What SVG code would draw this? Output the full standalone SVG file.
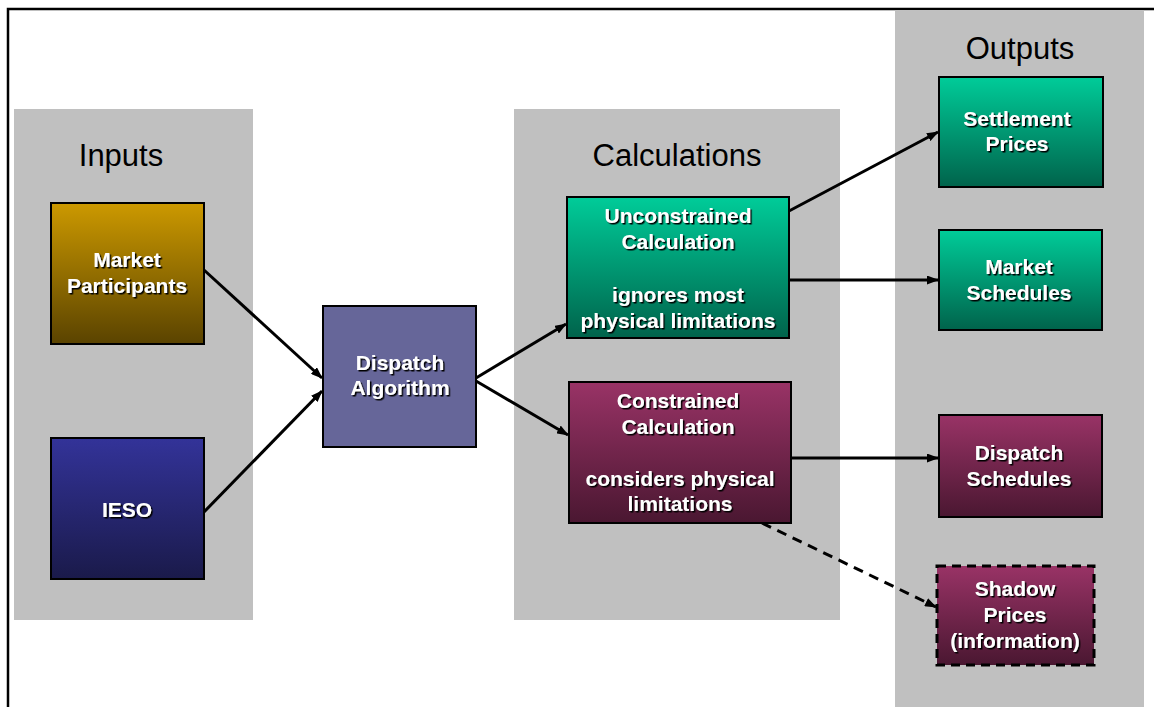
<svg xmlns="http://www.w3.org/2000/svg" width="1154" height="707" viewBox="0 0 1154 707">
<defs>
<linearGradient id="gGold" x1="0" y1="0" x2="0" y2="1"><stop offset="0" stop-color="#CC9900"/><stop offset="1" stop-color="#5A4300"/></linearGradient>
<linearGradient id="gBlue" x1="0" y1="0" x2="0" y2="1"><stop offset="0" stop-color="#333399"/><stop offset="1" stop-color="#1A1A4A"/></linearGradient>
<linearGradient id="gGreen" x1="0" y1="0" x2="0" y2="1"><stop offset="0" stop-color="#00CC99"/><stop offset="1" stop-color="#00634B"/></linearGradient>
<linearGradient id="gWine" x1="0" y1="0" x2="0" y2="1"><stop offset="0" stop-color="#993366"/><stop offset="1" stop-color="#4A1731"/></linearGradient>
<filter id="sh" x="-10%" y="-20%" width="130%" height="150%"><feDropShadow dx="1.5" dy="1.5" stdDeviation="0.3" flood-color="#000" flood-opacity="1"/></filter>
<marker id="arr" markerWidth="12" markerHeight="9" refX="11" refY="4.5" orient="auto" markerUnits="userSpaceOnUse"><path d="M0,0 L12,4.5 L0,9 z" fill="#000"/></marker>
</defs>
<style>
.panel{fill:#C0C0C0}
.title{font-family:"Liberation Sans",Arial,sans-serif;font-size:31px;fill:#000;text-anchor:middle}
.box{stroke:#000;stroke-width:2}
.dbox{stroke:#000;stroke-width:3;stroke-dasharray:9,6}
.lbl{font-family:"Liberation Sans",Arial,sans-serif;font-size:21px;font-weight:bold;fill:#fff;text-anchor:middle;filter:url(#sh)}
.con{stroke:#000;stroke-width:3;fill:none;marker-end:url(#arr)}
.dash{stroke-dasharray:10,7}
</style>
<rect width="1154" height="707" fill="#fff"/>
<path d="M8,707 V9 H1154" fill="none" stroke="#000" stroke-width="2.5"/>
<g id="panels">
<rect class="panel" x="14" y="109" width="239" height="511"/>
<rect class="panel" x="514" y="109" width="326" height="511"/>
<rect class="panel" x="895" y="10" width="249" height="697"/>
<text class="title" x="121" y="166">Inputs</text>
<text class="title" x="677" y="166">Calculations</text>
<text class="title" x="1020" y="59">Outputs</text>
</g>
<g id="connectors">
<line class="con" x1="204" y1="270" x2="322" y2="378"/>
<line class="con" x1="204" y1="512" x2="322" y2="391"/>
<line class="con" x1="476" y1="378" x2="566" y2="324"/>
<line class="con" x1="476" y1="381" x2="568" y2="435"/>
<line class="con" x1="789" y1="211" x2="938" y2="132"/>
<line class="con" x1="789" y1="280" x2="938" y2="280"/>
<line class="con" x1="791" y1="458" x2="938" y2="458"/>
<line class="con dash" x1="762" y1="523" x2="936" y2="607"/>
</g>
<g id="n-market-participants">
<rect class="box" x="51" y="203" width="153" height="141" fill="url(#gGold)"/>
<text class="lbl" x="127" y="267">Market</text>
<text class="lbl" x="127" y="293">Participants</text>
</g>
<g id="n-ieso">
<rect class="box" x="51" y="438" width="153" height="141" fill="url(#gBlue)"/>
<text class="lbl" x="127" y="517">IESO</text>
</g>
<g id="n-dispatch-algorithm">
<rect class="box" x="323" y="306" width="153" height="141" fill="#666699"/>
<text class="lbl" x="400" y="370">Dispatch</text>
<text class="lbl" x="400" y="395">Algorithm</text>
</g>
<g id="n-unconstrained">
<rect class="box" x="567" y="197" width="222" height="141" fill="url(#gGreen)"/>
<text class="lbl" x="678" y="223">Unconstrained</text>
<text class="lbl" x="678" y="249">Calculation</text>
<text class="lbl" x="678" y="302">ignores most</text>
<text class="lbl" x="678" y="328">physical limitations</text>
</g>
<g id="n-constrained">
<rect class="box" x="569" y="382" width="222" height="141" fill="url(#gWine)"/>
<text class="lbl" x="678" y="408">Constrained</text>
<text class="lbl" x="678" y="434">Calculation</text>
<text class="lbl" x="680" y="486">considers physical</text>
<text class="lbl" x="680" y="511">limitations</text>
</g>
<g id="n-settlement-prices">
<rect class="box" x="939" y="77" width="164" height="110" fill="url(#gGreen)"/>
<text class="lbl" x="1017" y="126">Settlement</text>
<text class="lbl" x="1017" y="151">Prices</text>
</g>
<g id="n-market-schedules">
<rect class="box" x="939" y="230" width="163" height="100" fill="url(#gGreen)"/>
<text class="lbl" x="1019" y="274">Market</text>
<text class="lbl" x="1019" y="300">Schedules</text>
</g>
<g id="n-dispatch-schedules">
<rect class="box" x="939" y="415" width="163" height="102" fill="url(#gWine)"/>
<text class="lbl" x="1019" y="460">Dispatch</text>
<text class="lbl" x="1019" y="486">Schedules</text>
</g>
<g id="n-shadow-prices">
<rect class="dbox" x="937" y="566" width="157" height="99" fill="url(#gWine)"/>
<text class="lbl" x="1015" y="596">Shadow</text>
<text class="lbl" x="1015" y="622">Prices</text>
<text class="lbl" x="1015" y="648">(information)</text>
</g>
</svg>
